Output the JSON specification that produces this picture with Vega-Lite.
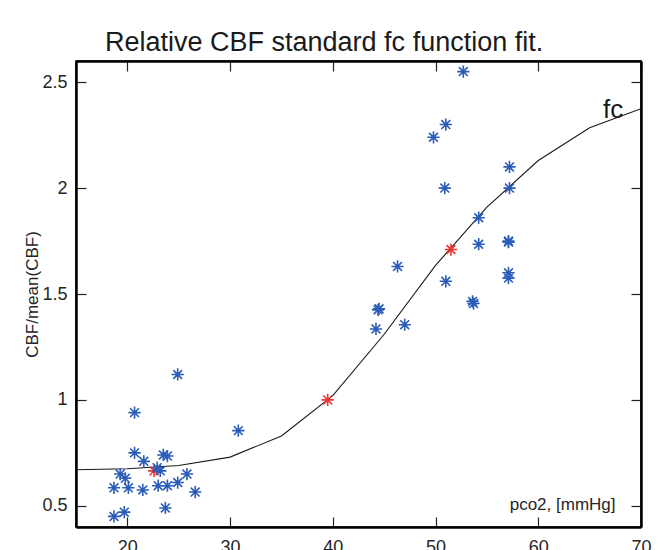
{
  "$schema": "https://vega.github.io/schema/vega-lite/v6.json",
  "width": 565,
  "height": 466,
  "autosize": {"type": "none"},
  "padding": {"left": 76, "top": 61, "right": 17, "bottom": 23},
  "background": "white",
  "title": {
    "text": "Relative CBF standard fc function fit.",
    "anchor": "start",
    "frame": "group",
    "dx": 29,
    "offset": -18,
    "baseline": "alphabetic",
    "font": "Liberation Sans",
    "fontSize": 27,
    "fontWeight": "normal",
    "color": "#1a1a1a"
  },
  "config": {
    "view": {"stroke": "#000000", "strokeWidth": 1.5},
    "axis": {
      "domain": true,
      "domainColor": "#000000",
      "domainWidth": 2.5,
      "grid": false,
      "tickColor": "#222222",
      "tickSize": -10,
      "tickWidth": 1.2,
      "labelFont": "Liberation Sans",
      "labelFontSize": 18,
      "labelColor": "#262626",
      "titleFont": "Liberation Sans",
      "titleFontWeight": "normal",
      "titleColor": "#262626",
      "labelFlush": false,
      "labelOverlap": false
    }
  },
  "datasets": {
    "points": [
      {"pco2": 22.6, "cbf": 0.665, "kind": "reference"},
      {"pco2": 39.5, "cbf": 1.0, "kind": "reference"},
      {"pco2": 51.5, "cbf": 1.71, "kind": "reference"},
      {"pco2": 18.7, "cbf": 0.585, "kind": "measured"},
      {"pco2": 18.7, "cbf": 0.45, "kind": "measured"},
      {"pco2": 19.3, "cbf": 0.65, "kind": "measured"},
      {"pco2": 19.8, "cbf": 0.63, "kind": "measured"},
      {"pco2": 20.1, "cbf": 0.585, "kind": "measured"},
      {"pco2": 19.7, "cbf": 0.47, "kind": "measured"},
      {"pco2": 20.7, "cbf": 0.94, "kind": "measured"},
      {"pco2": 20.7, "cbf": 0.75, "kind": "measured"},
      {"pco2": 21.6, "cbf": 0.71, "kind": "measured"},
      {"pco2": 21.5, "cbf": 0.575, "kind": "measured"},
      {"pco2": 22.9, "cbf": 0.68, "kind": "measured"},
      {"pco2": 23.2, "cbf": 0.665, "kind": "measured"},
      {"pco2": 23.5, "cbf": 0.74, "kind": "measured"},
      {"pco2": 23.9, "cbf": 0.735, "kind": "measured"},
      {"pco2": 23.0, "cbf": 0.595, "kind": "measured"},
      {"pco2": 23.9, "cbf": 0.595, "kind": "measured"},
      {"pco2": 23.7, "cbf": 0.49, "kind": "measured"},
      {"pco2": 24.9, "cbf": 1.12, "kind": "measured"},
      {"pco2": 24.9, "cbf": 0.61, "kind": "measured"},
      {"pco2": 25.8, "cbf": 0.65, "kind": "measured"},
      {"pco2": 26.6, "cbf": 0.565, "kind": "measured"},
      {"pco2": 30.8, "cbf": 0.855, "kind": "measured"},
      {"pco2": 44.2, "cbf": 1.335, "kind": "measured"},
      {"pco2": 44.4, "cbf": 1.425, "kind": "measured"},
      {"pco2": 44.5, "cbf": 1.43, "kind": "measured"},
      {"pco2": 46.3, "cbf": 1.63, "kind": "measured"},
      {"pco2": 47.0, "cbf": 1.355, "kind": "measured"},
      {"pco2": 51.0, "cbf": 1.56, "kind": "measured"},
      {"pco2": 53.6, "cbf": 1.465, "kind": "measured"},
      {"pco2": 53.7, "cbf": 1.455, "kind": "measured"},
      {"pco2": 52.7, "cbf": 2.55, "kind": "measured"},
      {"pco2": 51.0, "cbf": 2.3, "kind": "measured"},
      {"pco2": 49.8, "cbf": 2.24, "kind": "measured"},
      {"pco2": 57.2, "cbf": 2.1, "kind": "measured"},
      {"pco2": 50.9, "cbf": 2.0, "kind": "measured"},
      {"pco2": 57.2, "cbf": 2.0, "kind": "measured"},
      {"pco2": 54.2, "cbf": 1.86, "kind": "measured"},
      {"pco2": 54.2, "cbf": 1.735, "kind": "measured"},
      {"pco2": 57.1, "cbf": 1.75, "kind": "measured"},
      {"pco2": 57.1, "cbf": 1.745, "kind": "measured"},
      {"pco2": 57.1, "cbf": 1.6, "kind": "measured"},
      {"pco2": 57.1, "cbf": 1.575, "kind": "measured"}
    ],
    "fit": [
      {"pco2": 15, "cbf": 0.67},
      {"pco2": 20, "cbf": 0.675},
      {"pco2": 25, "cbf": 0.69},
      {"pco2": 30, "cbf": 0.73},
      {"pco2": 35, "cbf": 0.83},
      {"pco2": 40, "cbf": 1.02},
      {"pco2": 45, "cbf": 1.31},
      {"pco2": 50, "cbf": 1.635},
      {"pco2": 55, "cbf": 1.91},
      {"pco2": 60, "cbf": 2.13},
      {"pco2": 65, "cbf": 2.285},
      {"pco2": 70, "cbf": 2.375}
    ],
    "labels": [
      {"pco2": 66.3, "cbf": 2.33, "label": "fc"}
    ]
  },
  "layer": [
    {
      "data": {"name": "fit"},
      "mark": {"type": "line", "color": "#1a1a1a", "strokeWidth": 1.1, "clip": true},
      "encoding": {
        "x": {
          "field": "pco2", "type": "quantitative",
          "scale": {"domain": [15, 70], "nice": false, "zero": false},
          "axis": {"orient": "top", "values": [20, 30, 40, 50, 60, 70], "labels": false, "title": null}
        },
        "y": {
          "field": "cbf", "type": "quantitative",
          "scale": {"domain": [0.4, 2.6], "nice": false, "zero": false},
          "axis": {"orient": "right", "values": [0.5, 1, 1.5, 2, 2.5], "labels": false, "title": null}
        }
      }
    },
    {
      "data": {"name": "points"},
      "mark": {
        "type": "point",
        "shape": "M-1,0L1,0M0,-1L0,1M-0.72,-0.72L0.72,0.72M-0.72,0.72L0.72,-0.72",
        "filled": false,
        "size": 150,
        "strokeWidth": 1.6,
        "opacity": 1,
        "clip": true
      },
      "encoding": {
        "x": {
          "field": "pco2", "type": "quantitative",
          "axis": {
            "orient": "bottom",
            "values": [20, 30, 40, 50, 60, 70],
            "format": "d",
            "labelPadding": 21,
            "title": "pco2, [mmHg]",
            "titleFontSize": 17,
            "titleAnchor": "start",
            "titleAlign": "right",
            "titleBaseline": "middle",
            "titleX": 539,
            "titleY": -23
          }
        },
        "y": {
          "field": "cbf", "type": "quantitative",
          "axis": {
            "orient": "left",
            "values": [0.5, 1, 1.5, 2, 2.5],
            "labelPadding": 19,
            "labelExpr": "datum.value == 1 || datum.value == 2 ? format(datum.value, 'd') : format(datum.value, '.1f')",
            "title": "CBF/mean(CBF)",
            "titleFontSize": 17,
            "titleAngle": -90,
            "titleAlign": "center",
            "titleBaseline": "middle",
            "titleX": -44,
            "titleY": 233
          }
        },
        "stroke": {
          "field": "kind", "type": "nominal",
          "scale": {"domain": ["measured", "reference"], "range": ["#2a5cb8", "#ec3535"]},
          "legend": null
        }
      }
    },
    {
      "data": {"name": "labels"},
      "mark": {"type": "text", "align": "left", "baseline": "alphabetic", "font": "Liberation Sans", "fontSize": 26, "color": "#1a1a1a"},
      "encoding": {
        "x": {"field": "pco2", "type": "quantitative", "axis": null},
        "y": {"field": "cbf", "type": "quantitative", "axis": null},
        "text": {"field": "label"}
      }
    }
  ],
  "resolve": {"axis": {"x": "independent", "y": "independent"}}
}
